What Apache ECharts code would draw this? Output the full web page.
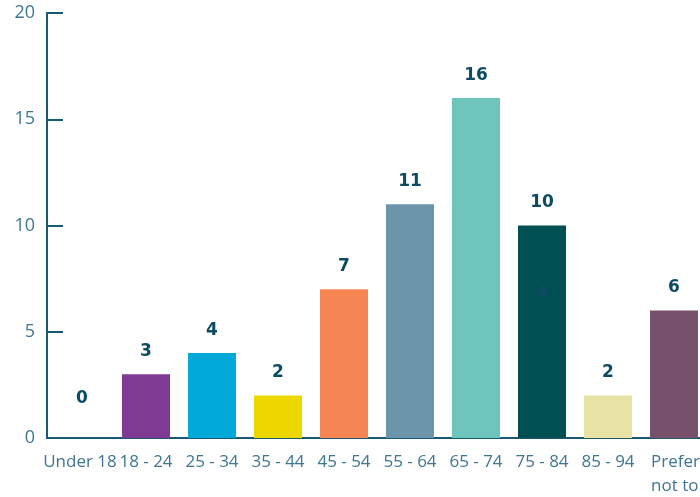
<!DOCTYPE html>
<html><head><meta charset="utf-8">
<script src="https://cdn.jsdelivr.net/npm/echarts@6/dist/echarts.min.js"></script>
<style>html,body{margin:0;padding:0;background:#fff}#c{width:700px;height:497px}</style>
</head><body><div id="c"></div>
<script>
var categories = ['Under 18','18 - 24','25 - 34','35 - 44','45 - 54','55 - 64','65 - 74','75 - 84','85 - 94','Prefer not to say'];
var values = [0,3,4,2,7,11,16,10,2,6];
var colors = ['#ffffff','#7f3b93','#00a9d8','#ecd800','#f58553','#6c95ac','#6dc5bb','#004f53','#e6e3a5','#77506b'];
var yTicks = [0,5,10,15,20];

var chart = echarts.init(document.getElementById('c'));
chart.setOption({
  animation:false,
  grid:{left:47,top:13,right:-7,bottom:59,containLabel:false,outerBoundsMode:'none'},
  xAxis:{type:'category',data:categories,
    axisLine:{lineStyle:{color:'#1b5872',width:2}},
    axisTick:{inside:true,length:7,lineStyle:{color:'#1b5872',width:1.5}},
    axisLabel:{color:'#3f7690',fontFamily:'Open Sans',fontSize:17,margin:12,lineHeight:24,interval:0,hideOverlap:false,
      formatter:function(v){return v==='Prefer not to say'?'{l|Prefer}\n{l|not to say}':v;},
      rich:{l:{align:'left',width:46,fontFamily:'Open Sans',fontSize:17,color:'#3f7690',lineHeight:24}}}},
  yAxis:{type:'value',min:0,max:20,interval:5,
    axisLine:{show:true,lineStyle:{color:'#1b5872',width:2}},
    axisTick:{show:true,inside:true,length:16,lineStyle:{color:'#1b5872',width:2}},
    splitLine:{show:false},
    axisLabel:{color:'#3f7690',fontFamily:'Open Sans',fontSize:18,margin:12,
      formatter:function(v){return yTicks.indexOf(v)>=0?String(v):'';}}},
  series:[{type:'bar',barWidth:48,
    data:values.map(function(v,i){
      var d={value:v,itemStyle:{color:colors[i]}};
      if(v===0) d.label={offset:[2,-17]};
      return d;}),
    label:{show:true,position:'top',distance:14,color:'#0d4a63',fontFamily:'DejaVu Sans',fontWeight:'bold',fontSize:17},
    markPoint:{symbolSize:0,silent:true,
      data:[{coord:['75 - 84',6.8],value:4,label:{show:true,position:'inside',formatter:'4',color:'#0d4a63',fontFamily:'DejaVu Sans',fontWeight:'bold',fontSize:17}}]}
  }]
});
</script></body></html>
